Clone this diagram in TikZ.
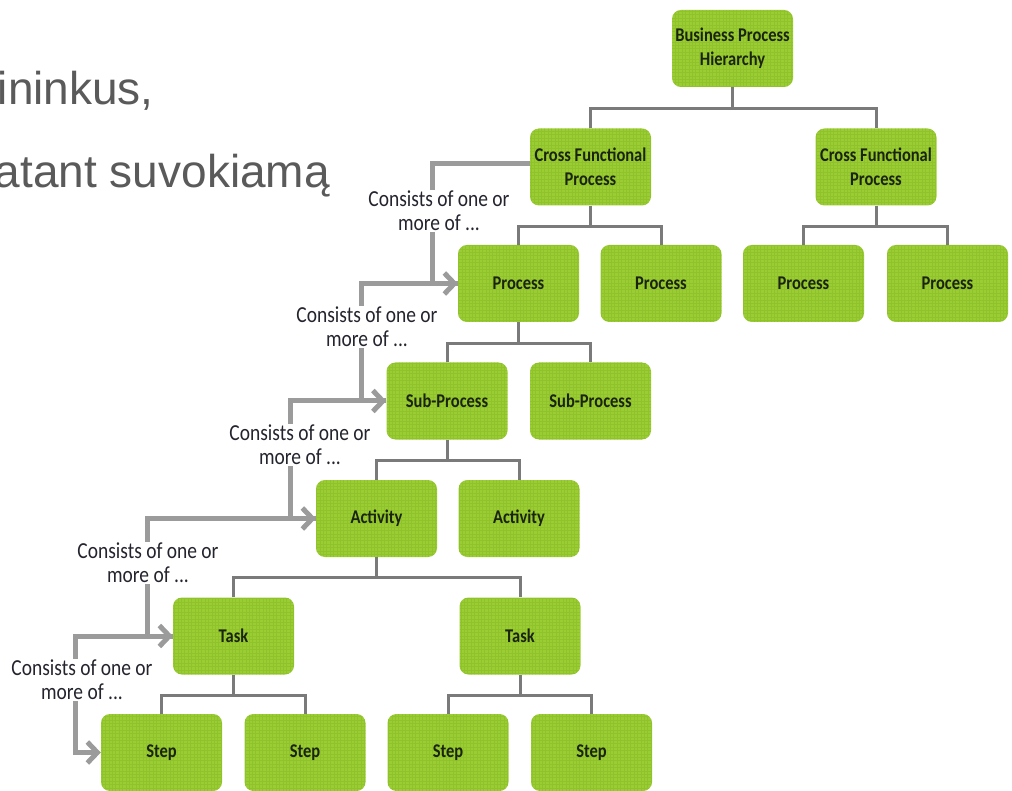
\documentclass[tikz,border=0pt]{standalone}
\usepackage{fontspec}
\setmainfont{Carlito}
\newfontfamily\slidefont{Liberation Sans}
\newfontfamily\narrowfont[FakeStretch=0.85]{Carlito}
\usetikzlibrary{arrows.meta}

\definecolor{boxgreen}{HTML}{9ACD32}
\definecolor{gridgreen}{HTML}{6E9E1E}
\definecolor{flowgray}{HTML}{9B9B9B}
\definecolor{treegray}{HTML}{7A7A7A}
\definecolor{labelink}{HTML}{24242E}
\definecolor{boxink}{HTML}{1A240C}
\definecolor{slideink}{HTML}{5A5A5A}

\begin{document}
\begin{tikzpicture}[x=1pt,y=-1pt,
  pbox/.style={rounded corners=9pt, fill=boxgreen, minimum width=121pt,
    minimum height=77pt, inner sep=0pt, align=center, text=boxink,
    font=\narrowfont\fontsize{19.4}{24}\selectfont\bfseries,
    path picture={\draw[gridgreen, opacity=0.22, line width=0.7pt, step=3.4pt]
      (path picture bounding box.south west) grid (path picture bounding box.north east);}},
  tree/.style={draw=treegray, line width=3pt},
  flow/.style={draw=flowgray, line width=5pt, -{Straight Barb[length=10pt,width=21pt]}},
  note/.style={fill=white, text=labelink, align=center, inner sep=1.5pt,
    font=\narrowfont\fontsize{22.9}{24}\selectfont},
  slide/.style={anchor=base east, inner sep=0pt, text=slideink,
    font=\slidefont\fontsize{46}{50}\selectfont}
]
% canvas
\fill[white] (0,0) rectangle (1012,791);
\useasboundingbox (0,0) rectangle (1012,791);

% slide text behind the chart
\node[slide] (line1) at (154,105) {ininkus,};
\node[slide] (line2) at (330,188) {atant suvokiamą};

% hierarchy boxes
\node[pbox] (bph)  at (732.5,48.5) {Business Process\\Hierarchy};
\node[pbox] (cfp1) at (590.5,167)  {Cross Functional\\Process};
\node[pbox] (cfp2) at (876,167)    {Cross Functional\\Process};
\node[pbox] (p1)   at (518.5,283.5) {Process};
\node[pbox] (p2)   at (661,283.5)   {Process};
\node[pbox] (p3)   at (803.5,283.5) {Process};
\node[pbox] (p4)   at (947.5,283.5) {Process};
\node[pbox] (sp1)  at (447,401)   {Sub-Process};
\node[pbox] (sp2)  at (590.5,401) {Sub-Process};
\node[pbox] (a1)   at (376.5,518.5) {Activity};
\node[pbox] (a2)   at (519,518.5)   {Activity};
\node[pbox] (t1)   at (233.5,636) {Task};
\node[pbox] (t2)   at (520,636)   {Task};
\node[pbox] (s1)   at (161.5,752.5) {Step};
\node[pbox] (s2)   at (305,752.5)   {Step};
\node[pbox] (s3)   at (448,752.5)   {Step};
\node[pbox] (s4)   at (591.5,752.5) {Step};

% "consists of" arrows down the left side
\draw[flow] ([yshift=3pt]cfp1.west) -- ++(-97,0) |- (p1.west);
\draw[flow] (p1.west)  -- ++(-96,0)  |- (sp1.west);
\draw[flow] (sp1.west) -- ++(-96,0)  |- (a1.west);
\draw[flow] (a1.west)  -- ++(-168,0) |- (t1.west);
\draw[flow] (t1.west)  -- ++(-97,0)  |- (s1.west);

\node[note] (n1) at (439,211) {Consists of one or\\more of ...};
\node[note] (n2) at (367,327) {Consists of one or\\more of ...};
\node[note] (n3) at (300,445) {Consists of one or\\more of ...};
\node[note] (n4) at (148,563) {Consists of one or\\more of ...};
\node[note] (n5) at (82,680)  {Consists of one or\\more of ...};

% tree connectors
\draw[tree] (bph.south) -- ++(0,21) coordinate (bus0);
\draw[tree] (cfp1.north) |- (bus0) -| (cfp2.north);
\draw[tree] (cfp1.south) -- ++(0,21) coordinate (bus1);
\draw[tree] (p1.north) |- (bus1) -| (p2.north);
\draw[tree] (cfp2.south) -- ++(0,21) coordinate (bus2);
\draw[tree] (p3.north) |- (bus2) -| (p4.north);
\draw[tree] (p1.south) -- ++(0,21) coordinate (bus3);
\draw[tree] (sp1.north) |- (bus3) -| (sp2.north);
\draw[tree] (sp1.south) -- ++(0,21) coordinate (bus4);
\draw[tree] (a1.north) |- (bus4) -| (a2.north);
\draw[tree] (a1.south) -- ++(0,20) coordinate (bus5);
\draw[tree] (t1.north) |- (bus5) -| (t2.north);
\draw[tree] (t1.south) -- ++(0,21) coordinate (bus6);
\draw[tree] (s1.north) |- (bus6) -| (s2.north);
\draw[tree] (t2.south) -- ++(0,21) coordinate (bus7);
\draw[tree] (s3.north) |- (bus7) -| (s4.north);
\end{tikzpicture}
\end{document}
